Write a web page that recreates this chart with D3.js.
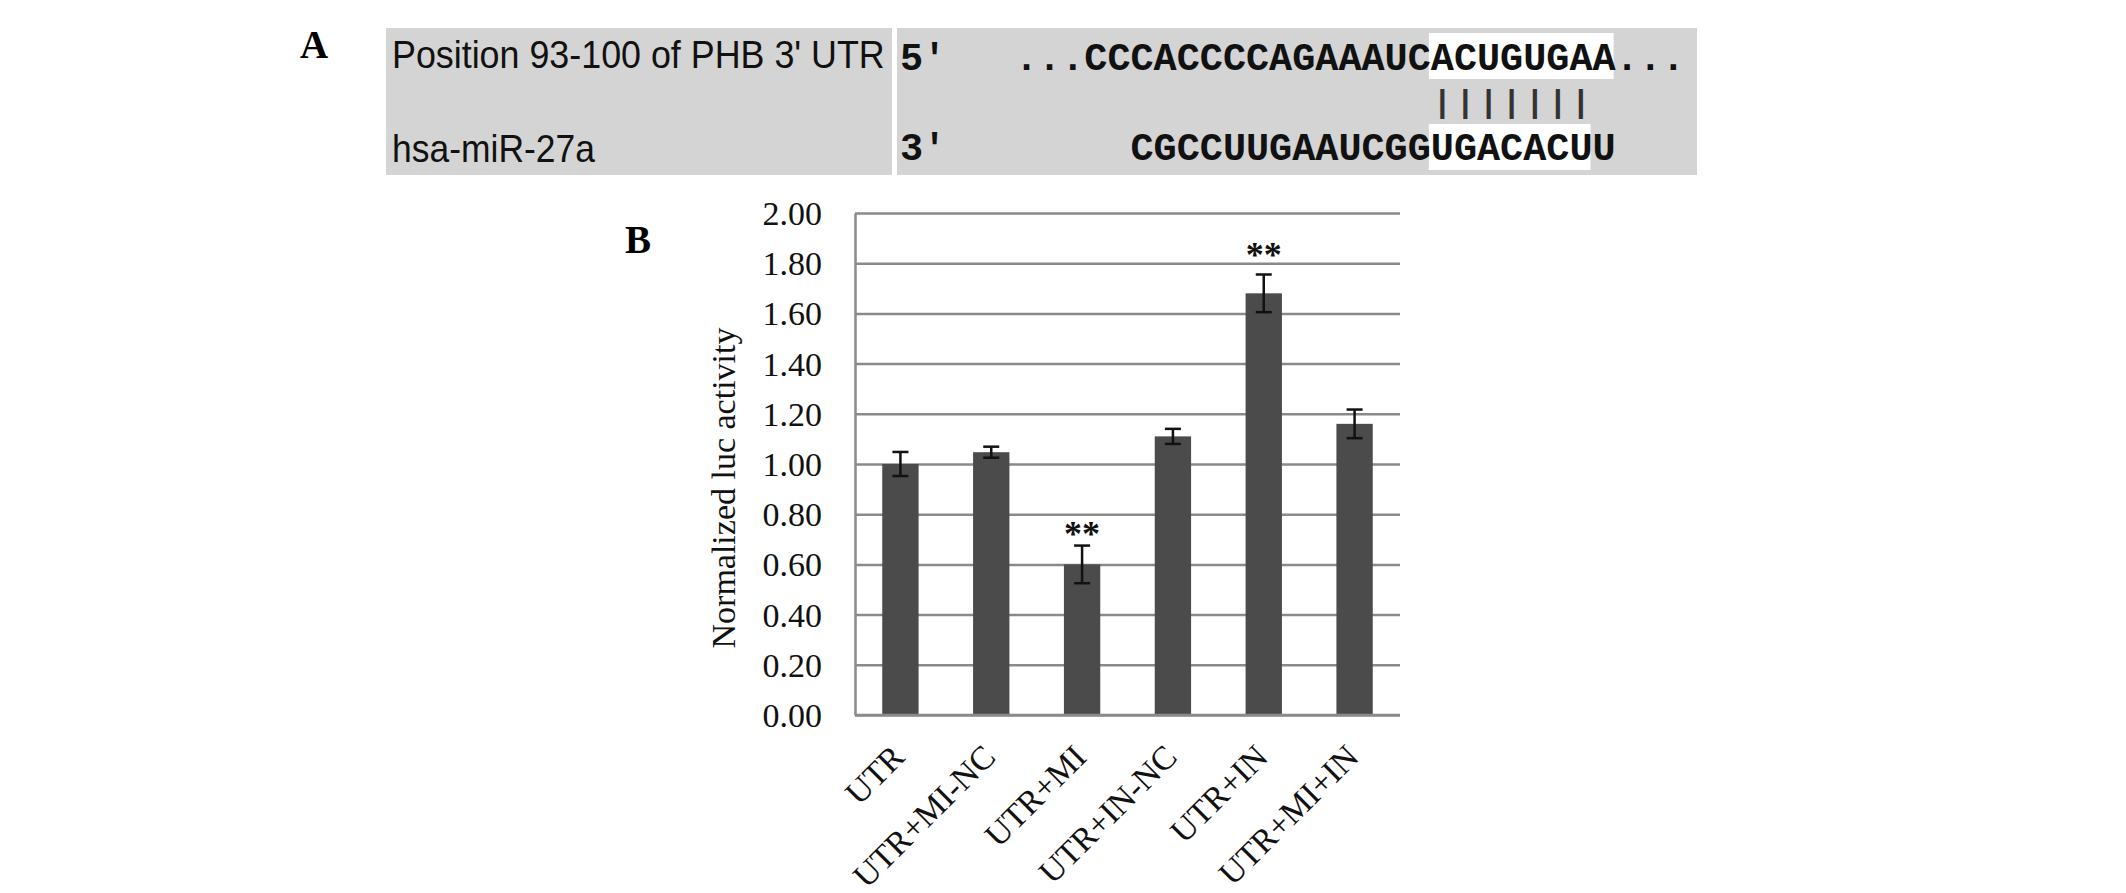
<!DOCTYPE html>
<html>
<head>
<meta charset="utf-8">
<script src="https://cdn.jsdelivr.net/npm/d3@7"></script>
<style>
  html, body { margin: 0; padding: 0; background: #ffffff; }
  svg { display: block; }
</style>
</head>
<body>
<svg id="chart" width="2126" height="893"></svg>
<script>
// ---------------- DATA ----------------
const categories = ["UTR", "UTR+MI-NC", "UTR+MI", "UTR+IN-NC", "UTR+IN", "UTR+MI+IN"];
const values     = [1.00, 1.047, 0.60, 1.11, 1.68, 1.16];
const errors     = [0.048, 0.022, 0.075, 0.03, 0.075, 0.057];
const sigMarks   = ["", "", "**", "", "**", ""];
const sigLevels  = [null, null, 0.745, null, 1.857, null];
const yTicks     = [0, 0.2, 0.4, 0.6, 0.8, 1.0, 1.2, 1.4, 1.6, 1.8, 2.0];
const yTitle     = "Normalized luc activity";

const panelALabels = ["Position 93-100 of PHB 3' UTR", "hsa-miR-27a"];
const endLabels    = ["5'", "3'"];
const utrSeq       = "...CCCACCCCAGAAAUCACUGUGAA...";
const mirSeq       = "CGCCUUGAAUCGGUGACACUU";
const pairing      = "|||||||";
const utrSeed      = [18, 8];   // [start index, length] of highlighted UTR bases
const mirSeed      = [13, 7];   // [start index, length] of highlighted miRNA bases
const pairStart    = 18;        // UTR index of the first pairing bar

// ---------------- SETUP ----------------
const svg = d3.select("#chart");
const serif = "'Liberation Serif', 'Times New Roman', serif";
const sans  = "'Liberation Sans', Arial, sans-serif";
const mono  = "'Liberation Mono', 'Courier New', monospace";

// ---------------- PANEL A ----------------
const A = svg.append("g");
A.append("text").attr("x", 300).attr("y", 58)
  .attr("font-family", serif).attr("font-weight", "bold").attr("font-size", 39)
  .text("A");

const boxTop = 28, boxBot = 175;
A.append("rect").attr("x", 386).attr("y", boxTop).attr("width", 892 - 386).attr("height", boxBot - boxTop).attr("fill", "#d4d4d4");
A.append("rect").attr("x", 897).attr("y", boxTop).attr("width", 1697 - 897).attr("height", boxBot - boxTop).attr("fill", "#d4d4d4");

const rowBase = [68, 162];
const labelWidths = [493, 203];
A.selectAll("text.lab").data(panelALabels).enter().append("text")
  .attr("class", "lab")
  .attr("font-family", sans).attr("font-size", 39)
  .attr("fill", "#111")
  .text(d => d)
  .each(function (d, i) {
    const w = this.getComputedTextLength();
    const s = labelWidths[i] / w;
    d3.select(this).attr("transform", `translate(392,${rowBase[i]}) scale(${s},1)`);
  });

const adv = 23.1, fs = 38.5;
const seqBase = [70, 160];
A.selectAll("text.end").data(endLabels).enter().append("text")
  .attr("class", "end")
  .attr("x", 900).attr("y", (d, i) => seqBase[i])
  .attr("font-family", mono).attr("font-weight", "bold").attr("font-size", fs)
  .attr("fill", "#111")
  .text(d => d);

const utrX = 1015;
const mirX = utrX + (utrSeed[0] - mirSeed[0]) * adv;

// highlight boxes
A.append("rect").attr("x", utrX + utrSeed[0] * adv - 2).attr("y", 33)
  .attr("width", utrSeed[1] * adv).attr("height", 46).attr("fill", "#ffffff");
A.append("rect").attr("x", mirX + mirSeed[0] * adv - 2).attr("y", 124)
  .attr("width", mirSeed[1] * adv).attr("height", 46).attr("fill", "#ffffff");

A.append("text").attr("x", utrX).attr("y", seqBase[0])
  .attr("font-family", mono).attr("font-weight", "bold").attr("font-size", fs)
  .attr("textLength", utrSeq.length * adv).attr("lengthAdjust", "spacingAndGlyphs")
  .attr("fill", "#111").text(utrSeq);
A.append("text").attr("x", mirX).attr("y", seqBase[1])
  .attr("font-family", mono).attr("font-weight", "bold").attr("font-size", fs)
  .attr("textLength", mirSeq.length * adv).attr("lengthAdjust", "spacingAndGlyphs")
  .attr("fill", "#111").text(mirSeq);

// pairing bars
const pfs = 32, pAdv = pfs * 0.6;
A.append("text").attr("x", utrX + pairStart * adv + (adv - pAdv) / 2).attr("y", 112)
  .attr("font-family", mono).attr("font-weight", "bold").attr("font-size", pfs)
  .attr("letter-spacing", (adv - pAdv) + "px")
  .attr("fill", "#333").text(pairing);

// ---------------- PANEL B ----------------
svg.append("text").attr("x", 625).attr("y", 253)
  .attr("font-family", serif).attr("font-weight", "bold").attr("font-size", 39)
  .text("B");

const plotL = 855, plotR = 1400, plotT = 213, plotB = 715;
const x = d3.scaleBand().domain(categories).range([plotL, plotR]).paddingInner(0.6).paddingOuter(0.3);
const y = d3.scaleLinear().domain([0, 2]).range([plotB, plotT]);
const gridColor = "#8a8a8a";

const yAxis = svg.append("g").attr("transform", `translate(${plotL},0)`)
  .call(d3.axisLeft(y).tickValues(yTicks).tickFormat(d3.format(".2f"))
    .tickSize(-(plotR - plotL)).tickSizeOuter(0).tickPadding(33));
yAxis.select(".domain").attr("stroke", gridColor).attr("stroke-width", 2.5);
yAxis.selectAll(".tick line").attr("stroke", gridColor).attr("stroke-width", 2.5);
yAxis.selectAll(".tick text").attr("font-family", serif).attr("font-size", 34).attr("fill", "#111").attr("dy", "0.34em");

// bars
svg.selectAll("rect.bar").data(categories).enter().append("rect")
  .attr("class", "bar")
  .attr("x", d => x(d)).attr("width", x.bandwidth())
  .attr("y", (d, i) => y(values[i])).attr("height", (d, i) => y(0) - y(values[i]))
  .attr("fill", "#4b4b4b");

// error bars
const capW = 16;
const eb = svg.selectAll("g.err").data(categories).enter().append("g").attr("class", "err")
  .attr("stroke", "#111").attr("stroke-width", 2.5);
eb.append("line")
  .attr("x1", d => x(d) + x.bandwidth() / 2).attr("x2", d => x(d) + x.bandwidth() / 2)
  .attr("y1", (d, i) => y(values[i] + errors[i])).attr("y2", (d, i) => y(values[i] - errors[i]));
eb.append("line")
  .attr("x1", d => x(d) + x.bandwidth() / 2 - capW / 2).attr("x2", d => x(d) + x.bandwidth() / 2 + capW / 2)
  .attr("y1", (d, i) => y(values[i] + errors[i])).attr("y2", (d, i) => y(values[i] + errors[i]));
eb.append("line")
  .attr("x1", d => x(d) + x.bandwidth() / 2 - capW / 2).attr("x2", d => x(d) + x.bandwidth() / 2 + capW / 2)
  .attr("y1", (d, i) => y(values[i] - errors[i])).attr("y2", (d, i) => y(values[i] - errors[i]));

// significance marks
svg.selectAll("text.sig").data(categories.filter((d, i) => sigMarks[i])).enter().append("text")
  .attr("class", "sig")
  .attr("x", d => x(d) + x.bandwidth() / 2)
  .attr("y", d => y(sigLevels[categories.indexOf(d)]) + 18)
  .attr("text-anchor", "middle")
  .attr("font-family", serif).attr("font-weight", "bold").attr("font-size", 36).attr("fill", "#111")
  .text(d => sigMarks[categories.indexOf(d)]);

// x axis
const xAxis = svg.append("g").attr("transform", `translate(0,${plotB})`)
  .call(d3.axisBottom(x).tickSize(0).tickSizeOuter(0).tickPadding(0));
xAxis.select(".domain").attr("stroke", gridColor).attr("stroke-width", 2.5)
  .attr("d", `M${plotL},0H${plotR}`);
xAxis.selectAll(".tick text")
  .attr("font-family", serif).attr("font-size", 33.5).attr("fill", "#111")
  .attr("text-anchor", "end")
  .attr("dy", null)
  .attr("y", 0)
  .attr("transform", "translate(6,44) rotate(-45)");

// y title
svg.append("text")
  .attr("transform", "translate(735,488) rotate(-90)")
  .attr("text-anchor", "middle")
  .attr("font-family", serif).attr("font-size", 34).attr("fill", "#111")
  .text(yTitle);
</script>
</body>
</html>
